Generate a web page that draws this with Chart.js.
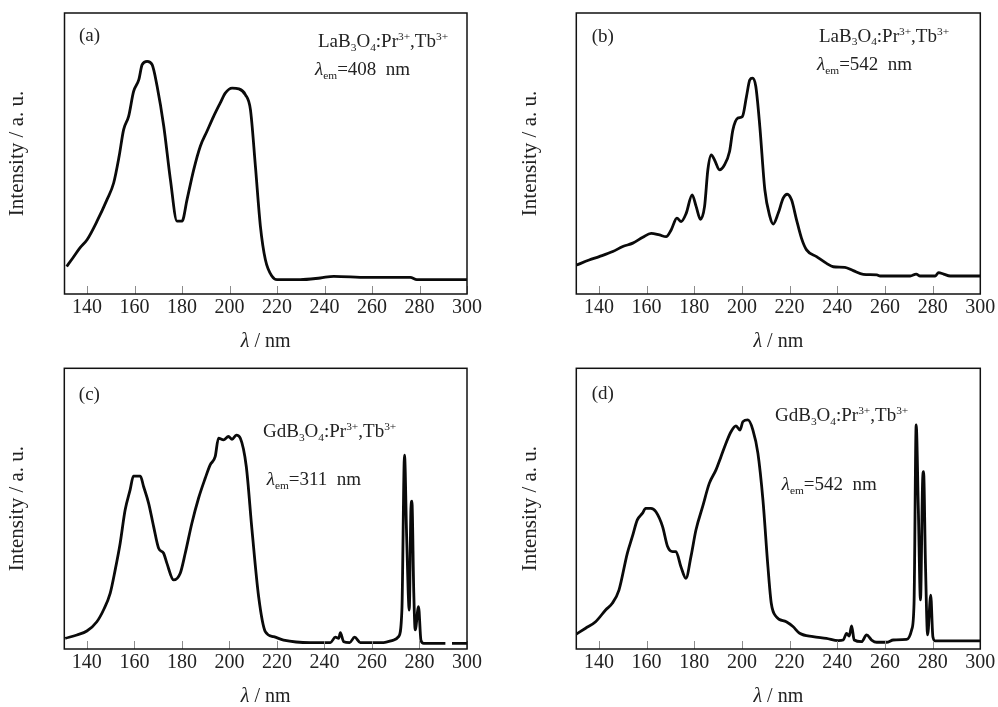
<!DOCTYPE html>
<html>
<head>
<meta charset="utf-8">
<script src="https://cdn.jsdelivr.net/npm/chart.js@4.4.1/dist/chart.umd.min.js"></script>
<style>
  html, body { margin: 0; background: #fff; }
  #wrap { position: relative; width: 998px; height: 707px; overflow: hidden; }
  .cell { position: absolute; }
  .cell canvas { display: block; }
</style>
</head>
<body>
<div id="wrap">
  <div class="cell" style="left:0;top:0"><canvas id="pa" width="499" height="353"></canvas></div>
  <div class="cell" style="left:499px;top:0"><canvas id="pb" width="499" height="353"></canvas></div>
  <div class="cell" style="left:0;top:353px"><canvas id="pc" width="499" height="354"></canvas></div>
  <div class="cell" style="left:499px;top:353px"><canvas id="pd" width="499" height="354"></canvas></div>
</div>
<script>
// 激發光譜四格圖：x 為波長 (nm)，y 為相對強度 (框底 = 0，框頂 = 100)
const xTicks = [140, 160, 180, 200, 220, 240, 260, 280, 300];
const X_MIN = 130.5, X_MAX = 300;

// (a) LaB3O4:Pr,Tb  λem = 408 nm
const aX = [131.4,134,137,140,144.2,148.4,151.2,153.5,155.4,157.5,159.6,161.8,163.2,165.3,167.4,169.5,172.3,175.1,177.9,180,182.1,184.9,187.7,190.5,193.3,196.1,198.2,201.1,203.9,206.7,208.8,210.9,213,215.1,217.9,220,229.8,238.2,243.9,257.9,276.1,278.9,300];
const aY = [9.8,12.8,16.4,19.3,25.9,33.6,39.5,49,58.5,63.2,72.1,76.3,81.6,82.8,81.6,73.9,59.7,40.7,25.9,25.9,33.6,44.2,52.6,57.9,63.2,68.0,71.5,73.3,73.0,70.9,65.6,45.4,24.1,12.2,6.3,5.1,5.1,5.7,6.3,5.9,5.9,5.1,5.1];

// (b) LaB3O4:Pr,Tb  λem = 542 nm
const bX = [130.6,135.9,140.1,145.8,150,154.2,158.4,161.9,165.4,168.2,170.3,172.7,174.5,176.6,179.1,180.8,182.6,184.3,185.7,187.1,188.5,190.6,192.7,194.8,196.2,198.3,200.2,201.9,203.3,204.4,205.8,207.5,209.6,211.7,213.1,215.2,217.3,219.0,220.8,222.9,225.0,227.1,231.3,235.5,238.3,243.2,246.7,250.9,256.6,258,270.6,273.1,274.8,281.1,282.5,284.6,287.4,300];
const bY = [10.3,12.1,13.3,15.1,16.9,18.1,20.2,21.6,21.0,20.4,22.8,27.0,25.8,28.7,35.3,31.1,26.6,31.1,44.2,49.5,47.7,44.2,46.0,50.7,58.4,62.6,63.2,70.3,76.2,76.8,73.9,59.6,37.1,27.6,24.9,28.7,34.1,35.5,33.5,26.4,19.8,15.7,13.3,10.9,9.7,9.5,8.3,7.0,6.8,6.4,6.4,7.1,6.4,6.4,7.6,7.1,6.4,6.4];

// (c) GdB3O4:Pr,Tb  λem = 311 nm（292 nm 附近原圖有斷點）
const cX = [130.9,135.8,140,144.2,147,149.8,151.9,154,156.1,158.2,159.6,162.5,163.9,166,168.1,170.2,172.3,173.7,176.5,179.3,181.4,184.2,187,189.8,191.9,194,195.4,197.5,199.6,201.1,202.9,204.6,207.1,209.5,212.3,215.1,218.6,222.8,234,242.5,244.6,246,246.7,248.1,250.6,252.7,255.1,264.9,269.1,271.2,272.6,273.7,274.6,275.7,276.4,276.8,277.6,278.2,279.6,280.6,281.8,290.9,292,293.7,300];
const cY = [3.8,5.0,6.4,9.7,13.9,19.8,28.1,37.6,49.5,56.7,61.6,61.6,57.8,51.9,43.6,35.9,34.1,30.5,24.6,27.0,34.1,44.8,53.7,60.8,65.6,68.5,75.1,74.5,75.7,74.7,76.2,75.1,65.0,42.4,18.6,6.2,4.4,3.2,2.3,2.3,4.2,3.8,5.8,2.6,2.3,4.2,2.3,2.3,3.2,4.4,13.9,69.1,40.0,13.9,50.0,52.7,20.0,6.8,15.1,3.2,2.0,2.0,null,2.0,2.0];

// (d) GdB3O4:Pr,Tb  λem = 542 nm
const dX = [130.5,134.4,138.6,142.8,145.6,148.4,151.9,154,156.1,158.2,159.6,161.8,163.9,166.7,168.8,170.9,172.3,174.4,176.5,178.6,180.7,183.5,186.3,189.1,191.2,193.3,195.4,197.5,199.2,200.4,202.5,204.6,206.7,208.8,210.9,212.3,214.4,218.6,221.4,224.2,229.8,235.4,240.4,242.5,243.9,245,246,247.1,250.2,252.3,254.4,256.5,260.7,263.5,269.1,271.2,272.2,273.1,274,274.9,275.8,276.2,277,277.9,279.2,280.1,281.1,300];
const dY = [5.3,7.4,9.7,13.9,16.3,21.0,34.1,40.0,46.0,48.3,50.1,50.1,48.9,43.6,36.5,34.7,34.7,29.3,25.2,32.9,42.4,50.7,59.0,63.8,68.5,73.3,77.4,79.5,78.0,81.0,81.6,78.0,69.7,53.1,29.3,16.3,11.5,9.7,8.0,5.6,4.4,3.8,3.0,3.2,5.6,4.6,8.2,3.2,2.6,5.0,3.2,2.4,2.4,3.2,3.4,6.8,16.3,79.8,50.0,17.5,60.0,63.2,30.0,5.0,19.2,4.4,2.9,2.9];

// 文字內容（化學式帶上下標）
const laFormula = [["La"], ["B"], ["3", "sub"], ["O"], ["4", "sub"], [":Pr"], ["3+", "sup"], [",Tb"], ["3+", "sup"]];
const gdFormula = [["Gd"], ["B"], ["3", "sub"], ["O"], ["4", "sub"], [":Pr"], ["3+", "sup"], [",Tb"], ["3+", "sup"]];
const em = (nm) => [["λ", "it"], ["em", "sub"], ["=" + nm + "  nm"]];
const xTitle = [["λ", "it"], [" / nm"]];
const yTitle = "Intensity / a. u.";

const SERIF = '"Liberation Serif", "Times New Roman", serif';

function drawRich(ctx, x, y, runs, size, align) {
  const fontOf = (r) => {
    const small = r[1] === "sub" || r[1] === "sup";
    return (r[1] === "it" ? "italic " : "") + (small ? size * 0.6 : size) + "px " + SERIF;
  };
  if (align === "center") {
    let w = 0;
    runs.forEach((r) => { ctx.font = fontOf(r); w += ctx.measureText(r[0]).width; });
    x -= w / 2;
  }
  runs.forEach((r) => {
    ctx.font = fontOf(r);
    const dy = r[1] === "sub" ? size * 0.2 : r[1] === "sup" ? -size * 0.36 : 0;
    ctx.fillText(r[0], x, y + dy);
    x += ctx.measureText(r[0]).width;
  });
}

const panelDecor = {
  id: "panelDecor",
  afterDatasetsDraw(chart, args, o) {
    const { ctx, chartArea: ca, scales: { x } } = chart;
    ctx.save();
    // 向內的刻度
    ctx.strokeStyle = "#8c8c8c";
    ctx.lineWidth = 1;
    x.ticks.forEach((t) => {
      const px = Math.round(x.getPixelForValue(t.value)) + 0.5;
      ctx.beginPath();
      ctx.moveTo(px, ca.bottom);
      ctx.lineTo(px, ca.bottom - 8);
      ctx.stroke();
    });
    // 外框
    ctx.strokeStyle = "#111";
    ctx.lineWidth = 1.5;
    ctx.strokeRect(ca.left, ca.top, ca.right - ca.left, ca.bottom - ca.top);
    // 標註
    ctx.fillStyle = "#222";
    ctx.textBaseline = "alphabetic";
    drawRich(ctx, ca.left + o.tagAt[0], ca.top + o.tagAt[1], [[o.tag]], 19);
    drawRich(ctx, ca.left + o.line1At[0], ca.top + o.line1At[1], o.line1, 19);
    drawRich(ctx, ca.left + o.line2At[0], ca.top + o.line2At[1], o.line2, 19);
    // x 軸標題
    ctx.textBaseline = "middle";
    drawRich(ctx, (ca.left + ca.right) / 2, ca.bottom + 48, xTitle, 20, "center");
    ctx.restore();
  }
};

function makePanel(id, xs, ys, box, text) {
  return new Chart(document.getElementById(id), {
    type: "line",
    data: {
      datasets: [{
        data: xs.map((v, i) => ({ x: v, y: ys[i] })),
        borderColor: "#0a0a0a",
        borderWidth: 2.8,
        pointRadius: 0,
        cubicInterpolationMode: "monotone",
        spanGaps: false,
        fill: false
      }]
    },
    options: {
      responsive: false,
      animation: false,
      events: [],
      layout: { padding: { top: box.top, right: box.right, left: 0, bottom: 0 } },
      plugins: { legend: { display: false }, tooltip: { enabled: false }, panelDecor: text },
      scales: {
        x: {
          type: "linear",
          min: X_MIN,
          max: X_MAX,
          afterBuildTicks: (s) => { s.ticks = xTicks.map((v) => ({ value: v })); },
          afterFit: (s) => { s.height = box.xh; s.paddingLeft = 0; s.paddingRight = 0; },
          grid: { display: false, drawTicks: false },
          border: { display: false },
          ticks: { font: { family: SERIF, size: 20 }, color: "#222", padding: 2, maxRotation: 0, autoSkip: false }
        },
        y: {
          min: 0,
          max: 100,
          afterFit: (s) => { s.width = box.yw; },
          grid: { display: false, drawTicks: false },
          border: { display: false },
          ticks: { display: false },
          title: { display: true, text: yTitle, font: { family: SERIF, size: 21 }, color: "#222", padding: { top: box.yt, bottom: 0 } }
        }
      }
    },
    plugins: [panelDecor]
  });
}

makePanel("pa", aX, aY, { top: 13, right: 32, xh: 59, yw: 64.5, yt: 4.5 },
  { tag: "(a)", tagAt: [14.5, 28], line1: laFormula, line1At: [253.5, 34], line2: em("408"), line2At: [250.5, 62] });
makePanel("pb", bX, bY, { top: 13, right: 17.7, xh: 59, yw: 77.3, yt: 19 },
  { tag: "(b)", tagAt: [15.4, 29], line1: laFormula, line1At: [242.7, 28.5], line2: em("542"), line2At: [240.7, 57] });
makePanel("pc", cX, cY, { top: 15.3, right: 32, xh: 58, yw: 64.3, yt: 5 },
  { tag: "(c)", tagAt: [14.5, 31.7], line1: gdFormula, line1At: [198.7, 69], line2: em("311"), line2At: [202.4, 116.7] });
makePanel("pd", dX, dY, { top: 15.3, right: 17.7, xh: 58, yw: 77.3, yt: 18.5 },
  { tag: "(d)", tagAt: [15.4, 31], line1: gdFormula, line1At: [198.7, 52.7], line2: em("542"), line2At: [205.4, 121.7] });
</script>
</body>
</html>
